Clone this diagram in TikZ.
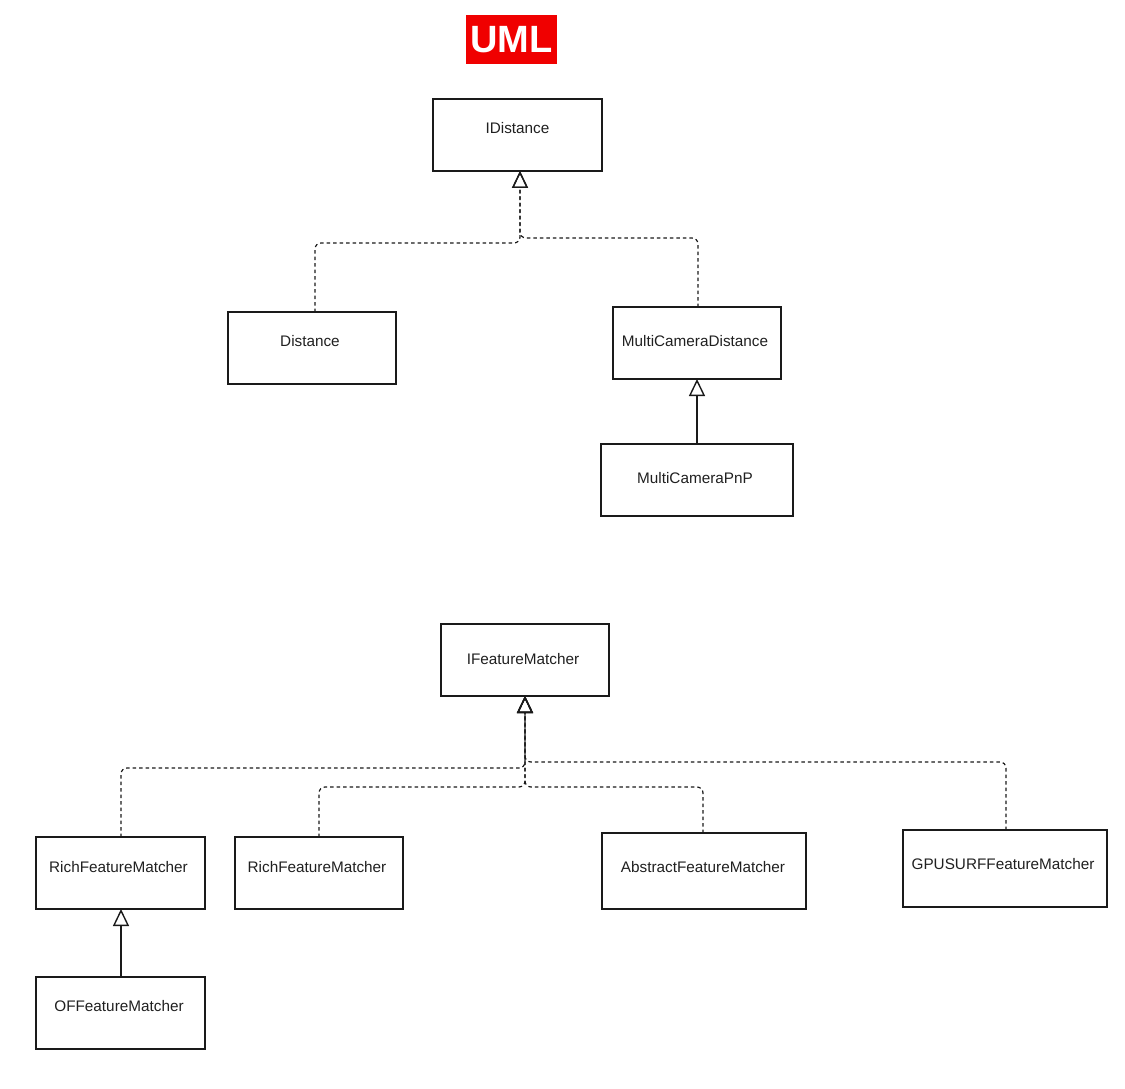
\documentclass[tikz,border=0pt]{standalone}
\usepackage{fontspec}
\setmainfont{Liberation Sans}
\usetikzlibrary{arrows.meta}
\definecolor{txtgray}{HTML}{202020}
\definecolor{linegray}{HTML}{1A1A1A}
\definecolor{umlred}{HTML}{F00000}
\begin{document}
\begin{tikzpicture}[x=1pt,y=-1pt,
  classbox/.style={draw=linegray, line width=1.4pt, inner sep=0pt, outer sep=0pt, fill=white},
  classtext/.style={text=txtgray, font=\fontsize{15.3}{18}\selectfont, inner sep=0pt},
  tri/.style={-{Triangle[open,width=16pt,length=17pt,line width=1.4pt]}},
  dep/.style={draw=linegray, line width=1.2pt, dash pattern=on 3.5pt off 3pt, rounded corners=6pt, tri},
  inh/.style={draw=linegray, line width=1.4pt, tri}]
\useasboundingbox (0,0) rectangle (1125,1089);

% title
\node[fill=umlred, minimum width=91pt, minimum height=49pt, inner sep=0pt,
      text=white, font=\fontsize{38}{40}\selectfont\bfseries] (title) at (511.5,39.5) {UML};

% boxes
\node[classbox, minimum width=169pt, minimum height=72pt] (idist) at (517.5,135) {};
\node[classbox, minimum width=168pt, minimum height=72pt] (dist) at (312,348) {};
\node[classbox, minimum width=168pt, minimum height=72pt] (mcd) at (697,343) {};
\node[classbox, minimum width=192pt, minimum height=72pt] (mcp) at (697,480) {};
\node[classbox, minimum width=168pt, minimum height=72pt] (ifm) at (525,660) {};
\node[classbox, minimum width=169pt, minimum height=72pt] (rfma) at (120.5,873) {};
\node[classbox, minimum width=168pt, minimum height=72pt] (rfmb) at (319,873) {};
\node[classbox, minimum width=204pt, minimum height=76pt] (afm) at (704,871) {};
\node[classbox, minimum width=204pt, minimum height=77pt] (gpu) at (1005,868.5) {};
\node[classbox, minimum width=169pt, minimum height=72pt] (off) at (120.5,1013) {};

% labels
\node[classtext] (idist-t) at (517.5,128) {IDistance};
\node[classtext] (dist-t) at (310,341) {Distance};
\node[classtext] (mcd-t) at (695,341) {MultiCameraDistance};
\node[classtext] (mcp-t) at (695,478) {MultiCameraPnP};
\node[classtext] (ifm-t) at (523,659) {IFeatureMatcher};
\node[classtext] (rfma-t) at (118.5,867) {RichFeatureMatcher};
\node[classtext] (rfmb-t) at (317,867) {RichFeatureMatcher};
\node[classtext] (afm-t) at (703,867) {AbstractFeatureMatcher};
\node[classtext] (gpu-t) at (1003,864) {GPUSURFFeatureMatcher};
\node[classtext] (off-t) at (119,1006) {OFFeatureMatcher};

% junction coordinates
\coordinate (ja) at (520,243);
\coordinate (jb) at (520,238);
\coordinate (jc) at (525,768);
\coordinate (jd) at (525,787);
\coordinate (je) at (525,762);

% top hierarchy
\draw[dep] ([xshift=3pt]dist.north) |- (ja) -- ([xshift=2.5pt]idist.south);
\draw[dep] ([xshift=1pt]mcd.north) |- (jb) -- ([xshift=2.5pt]idist.south);
\draw[inh] (mcp.north) -- (mcd.south);

% bottom hierarchy
\draw[dep] ([xshift=0.5pt]rfma.north) |- (jc) -- (ifm.south);
\draw[dep] (rfmb.north) |- (jd) -- (ifm.south);
\draw[dep] ([xshift=-1pt]afm.north) |- (jd) -- (ifm.south);
\draw[dep] ([xshift=1pt]gpu.north) |- (je) -- (ifm.south);
\draw[inh] ([xshift=0.5pt]off.north) -- ([xshift=0.5pt]rfma.south);
\end{tikzpicture}
\end{document}
